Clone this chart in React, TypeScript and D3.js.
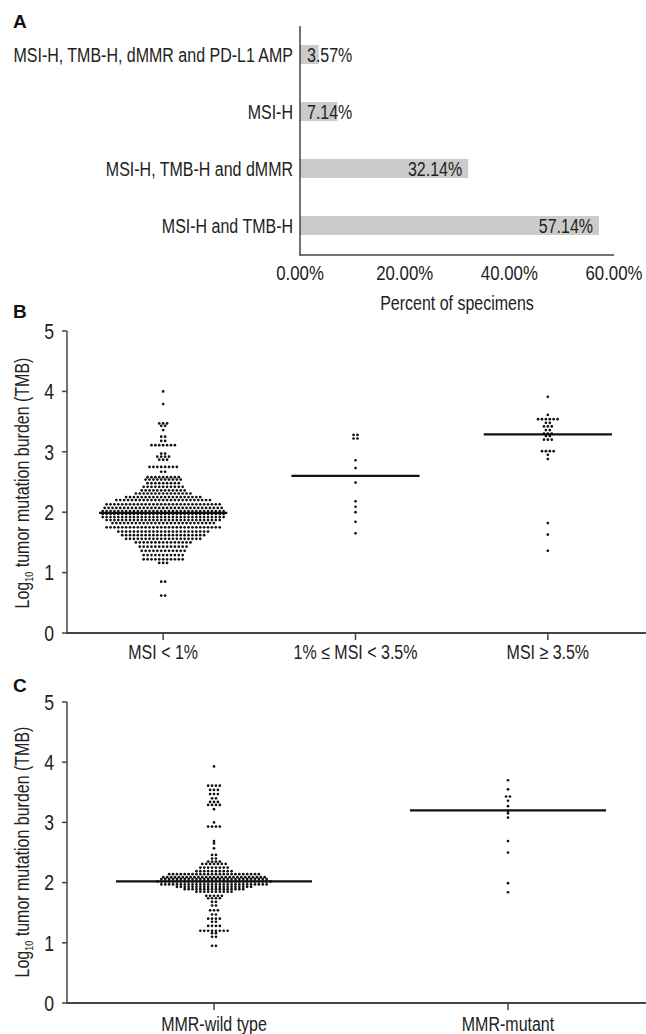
import * as d3 from 'd3'

// Panel A: combined biomarker share
const barCategories = ['MSI-H, TMB-H, dMMR and PD-L1 AMP', 'MSI-H', 'MSI-H, TMB-H and dMMR', 'MSI-H and TMB-H']
const barValues = [3.57, 7.14, 32.14, 57.14]
const percentTicks = [0, 20, 40, 60]

// Panel B: log10 TMB by MSI score, rows as [value, number of specimens]
const msiGroups = ['MSI < 1%', '1% ≤ MSI < 3.5%', 'MSI ≥ 3.5%']
const msiLines = [1.99, 2.6, 3.29]
const msiLowRows: [number, number][] = [
  [4.0, 1], [3.79, 1], [3.47, 3], [3.43, 2], [3.36, 1], [3.25, 2], [3.18, 2], [3.11, 7],
  [2.97, 2], [2.92, 4], [2.87, 3], [2.75, 8], [2.67, 2], [2.58, 9], [2.54, 10], [2.48, 9],
  [2.42, 11], [2.36, 12], [2.31, 15], [2.25, 20], [2.2, 25], [2.13, 30], [2.07, 31],
  [2.02, 32], [1.97, 32], [1.92, 32], [1.87, 30], [1.82, 27], [1.75, 30], [1.68, 24],
  [1.62, 22], [1.56, 20], [1.5, 15], [1.43, 13], [1.36, 12], [1.29, 11], [1.22, 11],
  [1.16, 3], [0.85, 2], [0.62, 2],
]
const msiMidRows: [number, number][] = [
  [3.28, 2], [3.22, 2], [2.86, 1], [2.73, 1], [2.49, 1], [2.18, 1], [2.09, 1], [2.0, 1], [1.84, 1], [1.65, 1],
]
const msiHighRows: [number, number][] = [
  [3.91, 1], [3.61, 1], [3.54, 6], [3.48, 2], [3.42, 3], [3.36, 2], [3.3, 3], [3.26, 2],
  [3.2, 3], [3.01, 4], [2.95, 1], [2.88, 1], [1.82, 1], [1.63, 1], [1.36, 1],
]

// Panel C: log10 TMB by MMR status
const mmrGroups = ['MMR-wild type', 'MMR-mutant']
const mmrLines = [2.02, 3.2]
const mmrWildRows: [number, number][] = [
  [3.93, 1], [3.61, 4], [3.54, 3], [3.47, 3], [3.4, 2], [3.34, 3], [3.29, 4], [3.22, 1],
  [3.0, 1], [2.93, 4], [2.69, 1], [2.65, 1], [2.57, 1], [2.46, 2], [2.4, 2], [2.35, 4],
  [2.31, 7], [2.25, 8], [2.19, 10], [2.14, 24], [2.09, 27], [2.06, 28], [2.02, 30],
  [1.97, 28], [1.93, 20], [1.89, 16], [1.85, 10], [1.78, 5], [1.74, 4], [1.68, 2],
  [1.62, 2], [1.54, 3], [1.47, 2], [1.4, 4], [1.35, 2], [1.28, 4], [1.2, 8], [1.16, 2],
  [1.1, 2], [0.95, 2],
]
const mmrMutRows: [number, number][] = [
  [3.7, 1], [3.55, 1], [3.43, 2], [3.36, 1], [3.27, 1], [3.19, 1], [3.15, 1], [3.08, 1],
  [2.69, 1], [2.5, 1], [1.99, 1], [1.84, 1],
]
const tmbTicks = [0, 1, 2, 3, 4, 5]

const W = 646
const H = 1034
const FONT = "'Liberation Sans', Arial, sans-serif"
const NARROW = 0.82 // no Arial Narrow here, so squeeze the regular face
const INK = '#222'
const AXIS = '#444'

// condensed text, drawn with a horizontal squeeze around its anchor point
function NText({ x, y, size = 19.5, anchor = 'start', rotate = 0, children }: any) {
  return (
    <text
      transform={`translate(${x},${y}) rotate(${rotate}) scale(${NARROW},1)`}
      textAnchor={anchor}
      dy="0.36em"
      fontSize={size}
      fill={INK}
      fontFamily={FONT}
    >{children}</text>
  )
}

function swarm(rows: [number, number][], cx: number, y: d3.ScaleLinear<number, number>, gap = 3.9) {
  const pts: { x: number; y: number }[] = []
  rows.forEach(([v, n]) => {
    for (let i = 0; i < n; i++) pts.push({ x: cx + (i - (n - 1) / 2) * gap, y: y(v) })
  })
  return pts
}

function DotPanel({ groups, lines, data, top, bottom, xRange, letter, letterY, titleY, labelY }: any) {
  const y = d3.scaleLinear().domain([0, 5]).range([bottom, top])
  const x = d3.scaleBand<string>().domain(groups).range(xRange)
  const lineW = x.bandwidth() * 2 / 3
  return (
    <g>
      <text x={13} y={letterY} fontSize={19} fontWeight="bold" fill="#111" fontFamily={FONT}>{letter}</text>
      <NText x={22} y={titleY} anchor="middle" rotate={-90}>
        <tspan>Log</tspan>
        <tspan fontSize={11} dy={4}>10</tspan>
        <tspan dy={-4}> tumor mutation burden (TMB)</tspan>
      </NText>
      <line x1={67} x2={67} y1={top} y2={bottom} stroke={AXIS} strokeWidth={1.5} />
      <line x1={66} x2={W} y1={bottom} y2={bottom} stroke={AXIS} strokeWidth={1.8} />
      {tmbTicks.map(t => (
        <g key={t}>
          <line x1={62} x2={67} y1={y(t)} y2={y(t)} stroke={AXIS} strokeWidth={1.5} />
          <NText x={54} y={y(t)} anchor="end" size={21.5}>{t}</NText>
        </g>
      ))}
      {groups.map((g: string, i: number) => {
        const cx = (x(g) ?? 0) + x.bandwidth() / 2
        const pts = swarm(data[i], cx, y)
        return (
          <g key={g}>
            <line x1={cx} x2={cx} y1={bottom} y2={bottom + 7} stroke={AXIS} strokeWidth={1.5} />
            <NText x={cx} y={labelY} anchor="middle">{g}</NText>
            {pts.map((p, j) => <circle key={j} cx={p.x} cy={p.y} r={1.35} fill="#111" />)}
            <line x1={cx - lineW / 2} x2={cx + lineW / 2} y1={y(lines[i])} y2={y(lines[i])} stroke="#111" strokeWidth={2.2} />
          </g>
        )
      })}
    </g>
  )
}

export default function App() {
  const xA = d3.scaleLinear().domain([0, 60]).range([300, 614])
  const yA = d3.scaleBand<string>().domain(barCategories).range([26, 254]).paddingInner(0.667).paddingOuter(0.333)
  const fmt = (v: number) => `${v.toFixed(2)}%`

  return (
    <svg width={W} height={H} style={{ position: 'absolute', left: 0, top: 0, background: '#fff' }}>
      <rect width={W} height={H} fill="#fff" />
      {/* Panel A */}
      <text x={13} y={28} fontSize={19} fontWeight="bold" fill="#111" fontFamily={FONT}>A</text>
      {barCategories.map((c, i) => {
        const y0 = yA(c) ?? 0
        const cy = y0 + yA.bandwidth() / 2
        const bw = xA(barValues[i]) - xA(0)
        const inside = bw > 70
        return (
          <g key={c}>
            <rect x={xA(0)} y={y0} width={bw} height={yA.bandwidth()} fill="#cbcbcb" />
            <NText x={293} y={cy} anchor="end">{c}</NText>
            <NText x={inside ? xA(barValues[i]) - 6 : xA(0) + 7} y={cy} anchor={inside ? 'end' : 'start'}>
              {fmt(barValues[i])}
            </NText>
          </g>
        )
      })}
      <line x1={300} x2={300} y1={26} y2={255} stroke={AXIS} strokeWidth={1.5} />
      <line x1={299} x2={614} y1={255} y2={255} stroke={AXIS} strokeWidth={1.5} />
      {percentTicks.map(t => (
        <NText key={t} x={xA(t)} y={273} anchor="middle" size={20.5}>{fmt(t)}</NText>
      ))}
      <NText x={457} y={303} anchor="middle">Percent of specimens</NText>

      {/* Panel B */}
      <DotPanel
        groups={msiGroups}
        lines={msiLines}
        data={[msiLowRows, msiMidRows, msiHighRows]}
        top={331}
        bottom={633}
        xRange={[67, 644]}
        letter="B"
        letterY={318}
        titleY={483}
        labelY={652}
      />

      {/* Panel C */}
      <DotPanel
        groups={mmrGroups}
        lines={mmrLines}
        data={[mmrWildRows, mmrMutRows]}
        top={702}
        bottom={1003}
        xRange={[67, 655]}
        letter="C"
        letterY={692}
        titleY={852}
        labelY={1024}
      />
    </svg>
  )
}
